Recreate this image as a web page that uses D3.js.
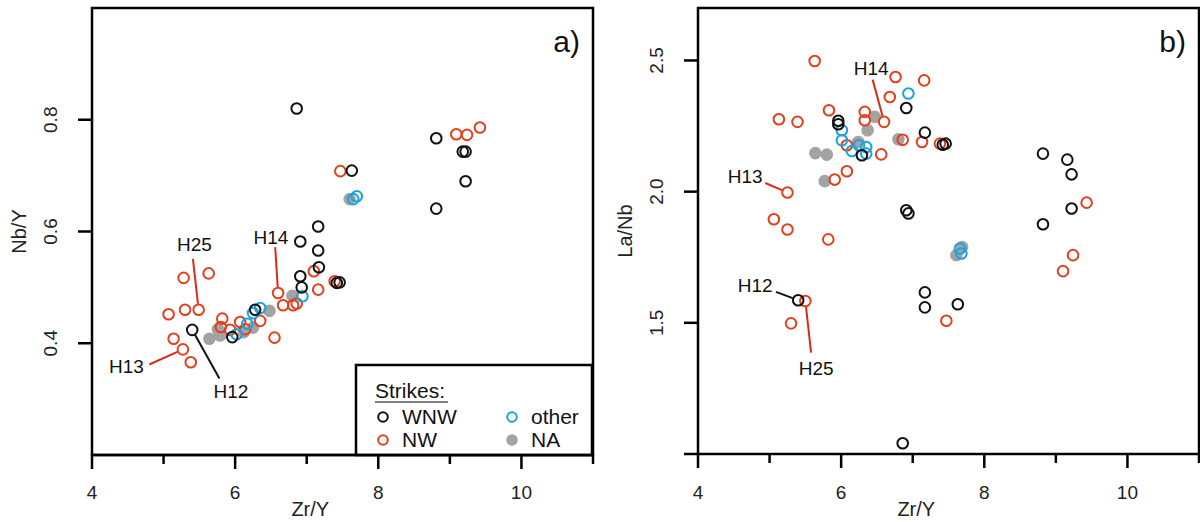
<!DOCTYPE html>
<html>
<head>
<meta charset="utf-8">
<script src="https://cdn.jsdelivr.net/npm/d3@7"></script>
<style>
  body { margin: 0; background: #fff; }
  svg { font-family: "Liberation Sans", Arial, sans-serif; }
</style>
</head>
<body>
<svg id="chart" width="1200" height="522"></svg>
<script>
// panel a: Zr/Y vs Nb/Y, [x, y] pairs per strike group
const aWNW = [[6.86,0.820],[8.81,0.767],[9.18,0.743],[9.22,0.743],[9.22,0.690],[8.81,0.641],
  [7.63,0.709],[7.16,0.609],[6.91,0.582],[7.16,0.566],[7.17,0.536],[6.91,0.520],[6.93,0.500],
  [7.42,0.508],[7.46,0.509],[6.28,0.460],[5.96,0.411],[5.40,0.424]];
const aNW = [[9.09,0.774],[9.24,0.773],[9.42,0.786],[7.47,0.708],[7.10,0.529],[7.16,0.496],
  [7.39,0.511],[6.60,0.490],[6.67,0.468],[6.81,0.468],[6.86,0.471],[6.35,0.440],[6.55,0.410],
  [5.82,0.444],[5.80,0.429],[5.93,0.424],[6.07,0.438],[6.14,0.425],[5.28,0.517],[5.63,0.525],
  [5.07,0.452],[5.30,0.460],[5.49,0.460],[5.14,0.408],[5.27,0.389],[5.38,0.366]];
const aOther = [[6.02,0.416],[6.17,0.435],[6.25,0.454],[6.35,0.463],[6.94,0.484],[7.65,0.658],[7.70,0.663]];
const aNA = [[5.64,0.408],[5.79,0.414],[5.76,0.425],[6.12,0.420],[6.25,0.428],[6.48,0.458],
  [6.80,0.485],[7.60,0.658]];

// panel b: Zr/Y vs La/Nb
const bWNW = [[6.91,2.319],[7.17,2.225],[7.42,2.179],[7.46,2.183],[5.96,2.270],[5.96,2.257],
  [6.29,2.139],[6.91,1.929],[6.94,1.917],[8.82,2.145],[9.16,2.122],[9.22,2.066],[9.22,1.936],
  [8.82,1.876],[7.17,1.616],[7.17,1.559],[7.63,1.571],[5.40,1.586],[6.86,1.041]];
const bNW = [[5.63,2.498],[5.13,2.276],[5.39,2.266],[5.83,2.310],[6.33,2.304],[6.33,2.272],
  [6.60,2.266],[6.68,2.361],[6.76,2.437],[7.16,2.424],[6.86,2.198],[7.13,2.189],[7.38,2.183],
  [6.56,2.142],[6.08,2.078],[5.91,2.046],[5.25,1.997],[5.06,1.895],[5.25,1.856],[5.82,1.818],
  [9.43,1.958],[9.24,1.758],[9.10,1.697],[5.50,1.583],[5.30,1.498],[7.47,1.508],[6.08,2.177]];
const bOther = [[6.94,2.374],[6.01,2.234],[6.01,2.196],[6.15,2.155],[6.25,2.177],[6.35,2.170],
  [6.35,2.145],[7.66,1.783],[7.68,1.764]];
const bNA = [[5.64,2.147],[5.80,2.141],[5.77,2.040],[6.47,2.285],[6.37,2.234],[6.80,2.200],
  [6.24,2.189],[7.69,1.789],[7.61,1.758]];

// sample labels: name, point [x, y], text position [x, y], line start [x, y], line colour
const aLabels = [
  ["H25", [5.49,0.460], [5.43,0.577], [5.41,0.551], "#d92b1a"],
  ["H14", [6.60,0.490], [6.50,0.589], [6.56,0.572], "#d92b1a"],
  ["H13", [5.27,0.389], [4.48,0.358], [4.80,0.362], "#d92b1a"],
  ["H12", [5.40,0.424], [5.94,0.313], [5.78,0.337], "#111"]
];
const bLabels = [
  ["H14", [6.60,2.266], [6.42,2.470], [6.44,2.427], "#d92b1a"],
  ["H13", [5.25,1.997], [4.66,2.056], [4.94,2.033], "#d92b1a"],
  ["H12", [5.40,1.586], [4.80,1.644], [5.09,1.618], "#111"],
  ["H25", [5.50,1.583], [5.65,1.327], [5.58,1.386], "#d92b1a"]
];

const xTicks = [4, 6, 8, 10];
const xMinor = [5, 7, 9, 11];
const aYTicks = [0.4, 0.6, 0.8];
const bYTicks = [1.0, 1.5, 2.0, 2.5];
const bYLabels = [1.5, 2.0, 2.5];

const colWNW = "#111", colNW = "#e2401f", colOther = "#1ea3dc", colNA = "#a3a3a3";

const svg = d3.select("#chart");

function drawPanel(opt) {
  const x = d3.scaleLinear().domain([4, 11]).range([opt.left, opt.right]);
  const y = d3.scaleLinear().domain(opt.yDomain).range([opt.bottom, opt.top]);
  const g = svg.append("g");

  // x axis ticks
  g.selectAll(".xt").data(xTicks).enter().append("line")
    .attr("x1", d => x(d)).attr("x2", d => x(d))
    .attr("y1", opt.bottom).attr("y2", opt.bottom + 14)
    .attr("stroke", "#000").attr("stroke-width", 2.5);
  g.selectAll(".xm").data(xMinor).enter().append("line")
    .attr("x1", d => x(d)).attr("x2", d => x(d))
    .attr("y1", opt.bottom).attr("y2", opt.bottom + 9)
    .attr("stroke", "#000").attr("stroke-width", 2.5);
  g.selectAll(".xl").data(xTicks).enter().append("text")
    .attr("x", d => x(d)).attr("y", 499)
    .attr("text-anchor", "middle").attr("font-size", 19).attr("fill", "#222")
    .text(d => d);
  g.append("text").attr("x", x(7.05)).attr("y", 516)
    .attr("text-anchor", "middle").attr("font-size", 20).attr("fill", "#222")
    .text("Zr/Y");

  // y axis ticks
  g.selectAll(".yt").data(opt.yTicks).enter().append("line")
    .attr("x1", opt.left - 14).attr("x2", opt.left)
    .attr("y1", d => y(d)).attr("y2", d => y(d))
    .attr("stroke", "#000").attr("stroke-width", 2.5);
  g.selectAll(".yl").data(opt.yLabels).enter().append("text")
    .attr("transform", d => `translate(${opt.left - 35},${y(d)}) rotate(-90)`)
    .attr("text-anchor", "middle").attr("font-size", 19).attr("fill", "#222")
    .text(d => d3.format(".1f")(d));
  g.append("text")
    .attr("transform", `translate(${opt.left - 66},${(opt.top + opt.bottom) / 2}) rotate(-90)`)
    .attr("text-anchor", "middle").attr("font-size", 20).attr("fill", "#222")
    .text(opt.yTitle);

  // label leader lines
  g.selectAll(".ll").data(opt.labels).enter().append("line")
    .attr("x1", d => x(d[3][0])).attr("y1", d => y(d[3][1]))
    .attr("x2", d => {
      const dx = x(d[1][0]) - x(d[3][0]), dy = y(d[1][1]) - y(d[3][1]);
      const len = Math.hypot(dx, dy);
      return x(d[3][0]) + dx * (len - 6) / len;
    })
    .attr("y2", d => {
      const dx = x(d[1][0]) - x(d[3][0]), dy = y(d[1][1]) - y(d[3][1]);
      const len = Math.hypot(dx, dy);
      return y(d[3][1]) + dy * (len - 6) / len;
    })
    .attr("stroke", d => d[4]).attr("stroke-width", 2);

  // points: grey, red, blue, black
  const groups = [
    [opt.na, colNA, colNA],
    [opt.nw, colNW, "none"],
    [opt.other, colOther, "none"],
    [opt.wnw, colWNW, "none"]
  ];
  groups.forEach(([pts, stroke, fill]) => {
    g.append("g").selectAll("circle").data(pts).enter().append("circle")
      .attr("cx", d => x(d[0])).attr("cy", d => y(d[1])).attr("r", 5.3)
      .attr("fill", fill).attr("stroke", stroke).attr("stroke-width", 2);
  });

  g.selectAll(".lt").data(opt.labels).enter().append("text")
    .attr("x", d => x(d[2][0])).attr("y", d => y(d[2][1]))
    .attr("text-anchor", "middle").attr("dominant-baseline", "central")
    .attr("font-size", 19).attr("fill", "#111")
    .text(d => d[0]);

  // frame
  g.append("rect")
    .attr("x", opt.left).attr("y", opt.top)
    .attr("width", opt.right - opt.left).attr("height", opt.bottom - opt.top)
    .attr("fill", "none").attr("stroke", "#000").attr("stroke-width", 2.5);

  g.append("text").attr("x", opt.right - 13).attr("y", 52)
    .attr("text-anchor", "end").attr("font-size", 30).attr("fill", "#111")
    .text(opt.tag);

  return { x, y, g };
}

const pa = drawPanel({
  left: 92, right: 593, top: 8, bottom: 455, yDomain: [0.2, 1.0],
  yTicks: aYTicks, yLabels: aYTicks, yTitle: "Nb/Y", tag: "a)",
  wnw: aWNW, nw: aNW, other: aOther, na: aNA, labels: aLabels
});
drawPanel({
  left: 698, right: 1199, top: 8, bottom: 454, yDomain: [1.0, 2.7],
  yTicks: bYTicks, yLabels: bYLabels, yTitle: "La/Nb", tag: "b)",
  wnw: bWNW, nw: bNW, other: bOther, na: bNA, labels: bLabels
});

// legend in panel a
const leg = pa.g.append("g");
leg.append("rect").attr("x", 356).attr("y", 365).attr("width", 236).attr("height", 90)
  .attr("fill", "#fff").attr("stroke", "#000").attr("stroke-width", 2.5);
leg.append("text").attr("x", 375).attr("y", 398).attr("font-size", 21).attr("fill", "#111")
  .text("Strikes:");
leg.append("line").attr("x1", 375).attr("x2", 448).attr("y1", 402).attr("y2", 402)
  .attr("stroke", "#555").attr("stroke-width", 1.5);
const legItems = [
  ["WNW", colWNW, "none", 383, 417],
  ["NW", colNW, "none", 383, 440],
  ["other", colOther, "none", 512, 417],
  ["NA", colNA, colNA, 512, 440]
];
legItems.forEach(([name, stroke, fill, lx, ly]) => {
  leg.append("circle").attr("cx", lx).attr("cy", ly).attr("r", 4.8)
    .attr("fill", fill).attr("stroke", stroke).attr("stroke-width", 2);
  leg.append("text").attr("x", lx + 19).attr("y", ly + 7)
    .attr("font-size", 21).attr("fill", "#111").text(name);
});
pa.g.append("line").attr("x1", 92).attr("x2", 593).attr("y1", 455).attr("y2", 455)
  .attr("stroke", "#000").attr("stroke-width", 2.5);
</script>
</body>
</html>
